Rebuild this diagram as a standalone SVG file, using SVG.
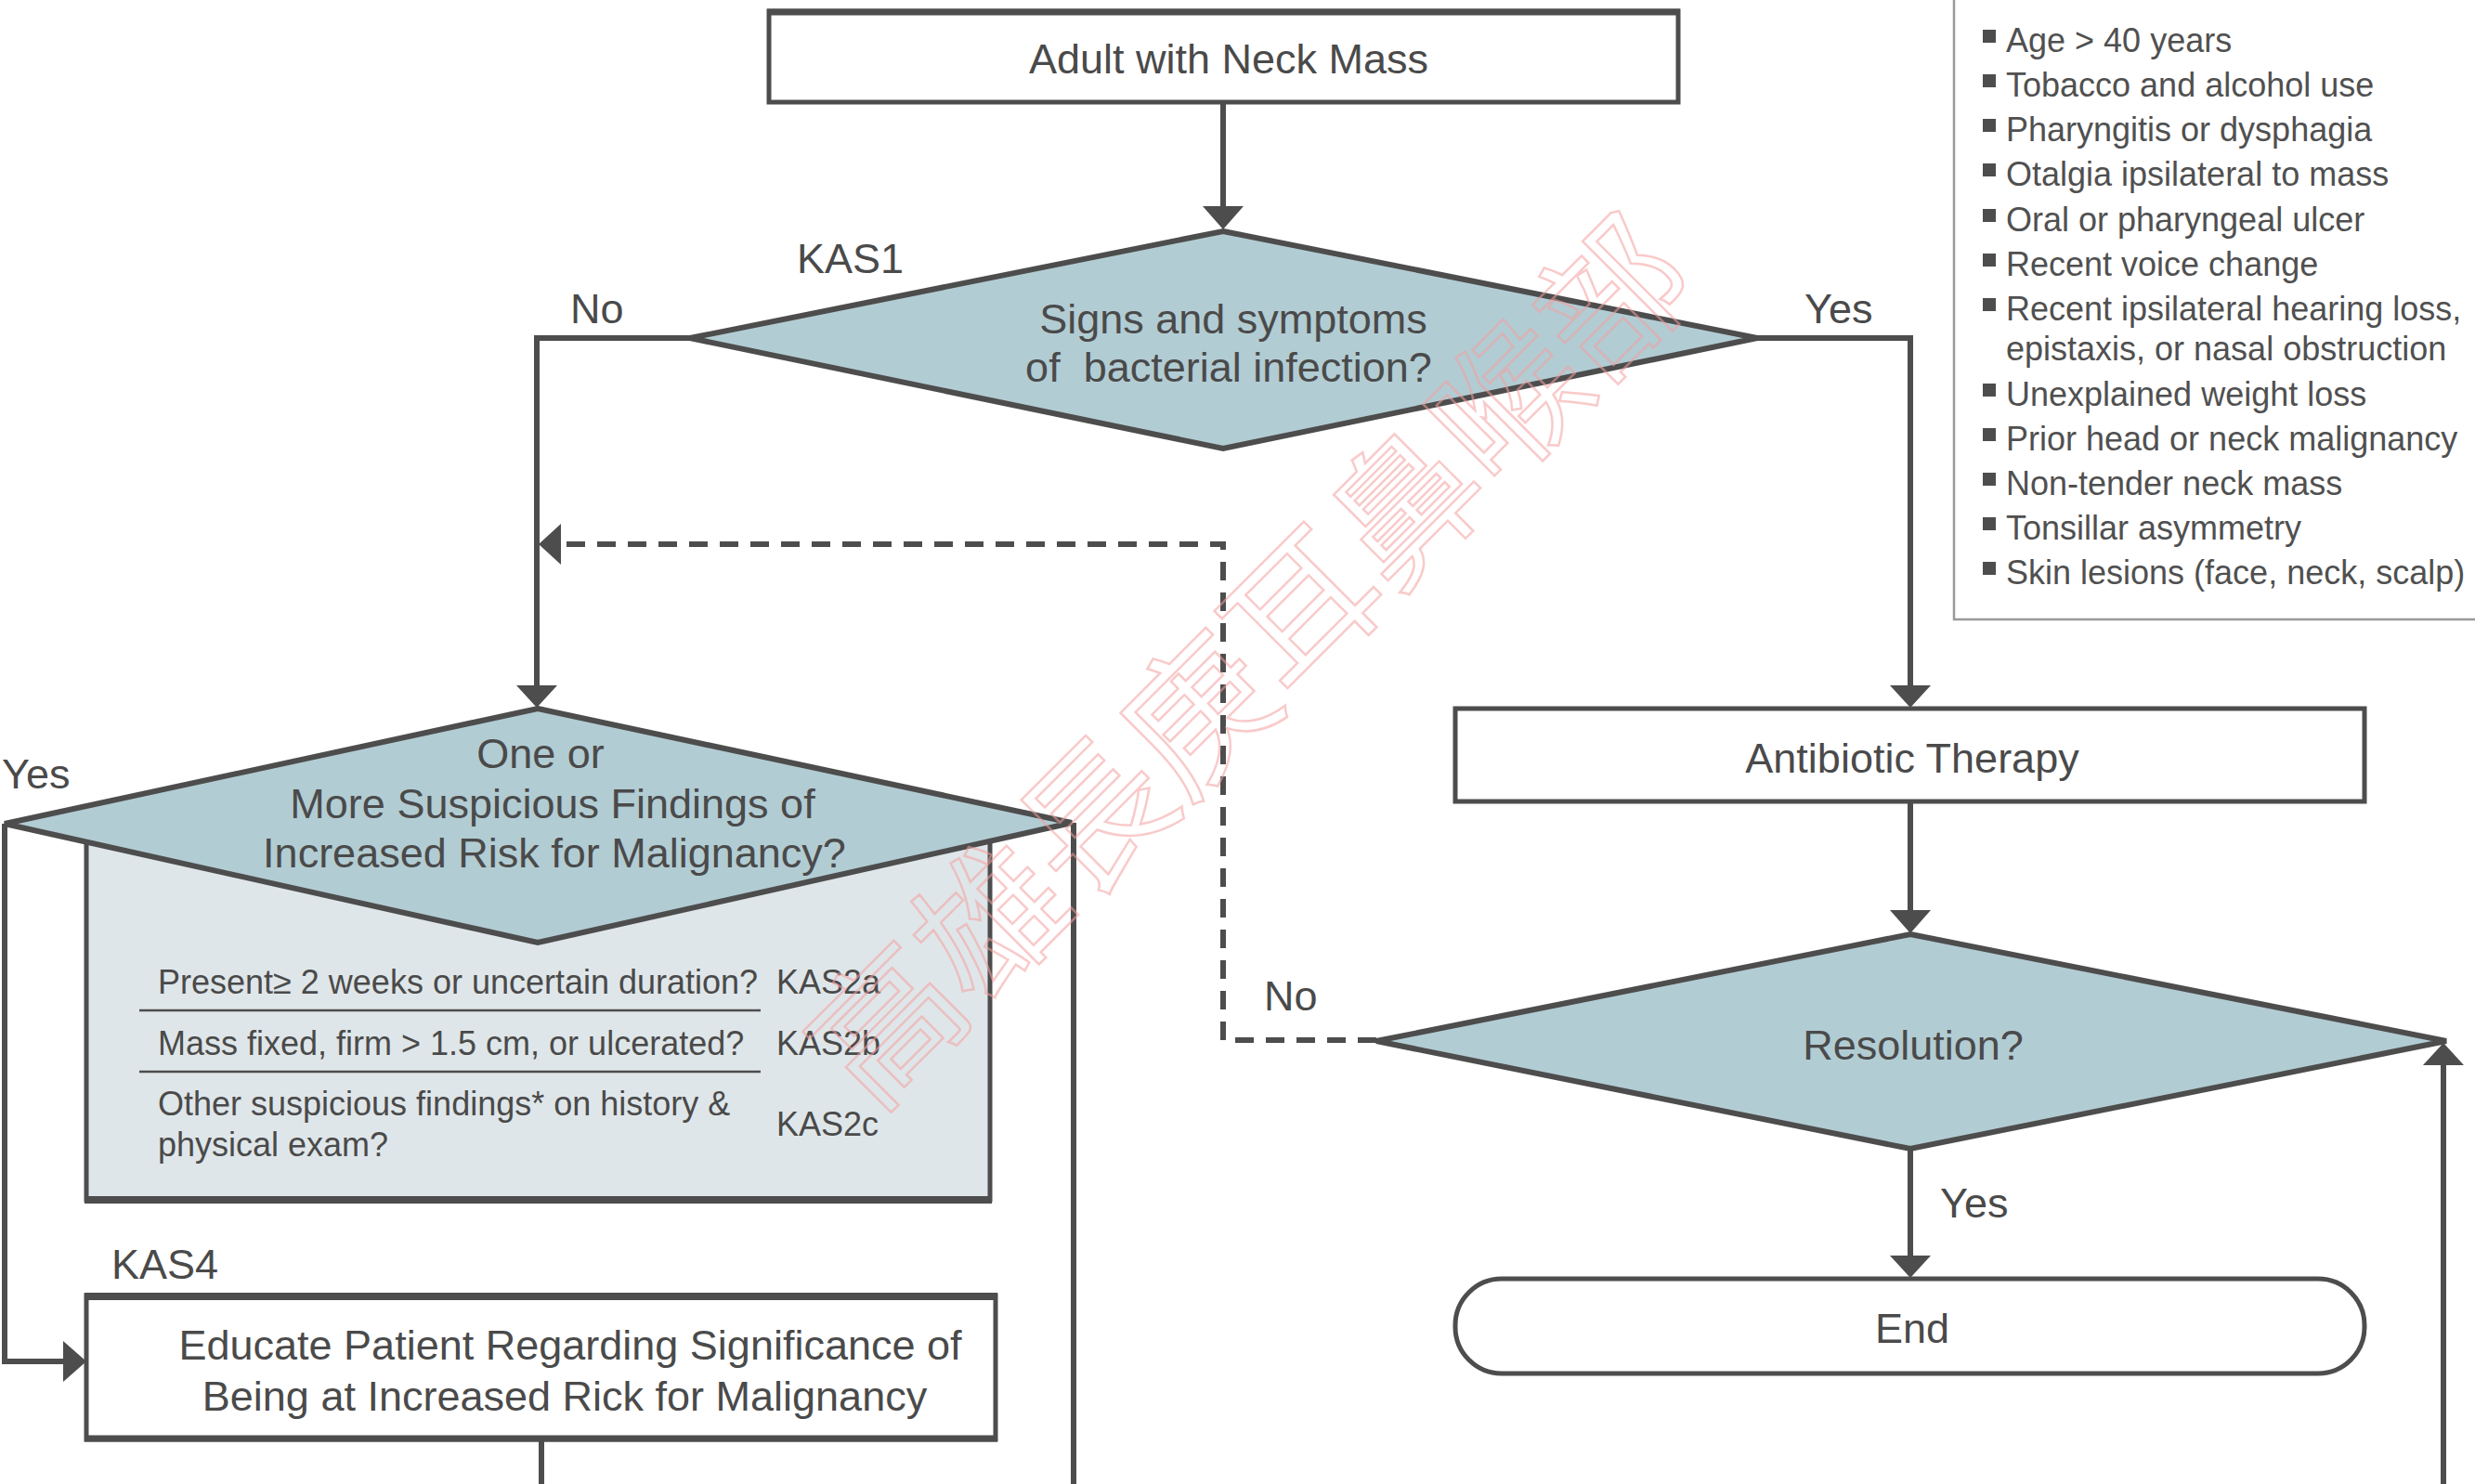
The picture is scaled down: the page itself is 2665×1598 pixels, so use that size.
<svg xmlns="http://www.w3.org/2000/svg" width="2665" height="1598" viewBox="0 0 2665 1598">
<style>
.t{font-family:"Liberation Sans",Arial,sans-serif;fill:#4a4a4a;white-space:pre}
.m{font-size:45px}
.c{text-anchor:middle}
.s{font-size:36px}
.lg{font-family:"Liberation Sans",Arial,sans-serif;font-size:36px;fill:#505050}
.box{fill:#ffffff;stroke:#4d4d4d;stroke-width:5}
.dia{fill:#b2ccd3;stroke:#4d4d4d;stroke-width:6;stroke-linejoin:miter}
.ln{fill:none;stroke:#4d4d4d;stroke-width:6}
.dash{fill:none;stroke:#4d4d4d;stroke-width:6;stroke-dasharray:20 13}
.ah{fill:#4d4d4d}
.wm{font-family:"Noto Sans CJK TC","Noto Sans CJK SC",sans-serif;font-size:158px;fill:none;stroke:#f5a0a0;stroke-width:2.5;opacity:0.55}
</style>

<g id="legend">
<path d="M2104,0 V667 H2665" fill="none" stroke="#9a9a9a" stroke-width="2.5"/>
<g fill="#4d4d4d">
<rect x="2135" y="32" width="14" height="14"/>
<rect x="2135" y="80" width="14" height="14"/>
<rect x="2135" y="128" width="14" height="14"/>
<rect x="2135" y="176" width="14" height="14"/>
<rect x="2135" y="225" width="14" height="14"/>
<rect x="2135" y="273" width="14" height="14"/>
<rect x="2135" y="321" width="14" height="14"/>
<rect x="2135" y="413" width="14" height="14"/>
<rect x="2135" y="461" width="14" height="14"/>
<rect x="2135" y="509" width="14" height="14"/>
<rect x="2135" y="557" width="14" height="14"/>
<rect x="2135" y="605" width="14" height="14"/>
</g>
<text class="lg" x="2160" y="56">Age &gt; 40 years</text>
<text class="lg" x="2160" y="104">Tobacco and alcohol use</text>
<text class="lg" x="2160" y="152">Pharyngitis or dysphagia</text>
<text class="lg" x="2160" y="200">Otalgia ipsilateral to mass</text>
<text class="lg" x="2160" y="249">Oral or pharyngeal ulcer</text>
<text class="lg" x="2160" y="297">Recent voice change</text>
<text class="lg" x="2160" y="345">Recent ipsilateral hearing loss,</text>
<text class="lg" x="2160" y="388">epistaxis, or nasal obstruction</text>
<text class="lg" x="2160" y="437">Unexplained weight loss</text>
<text class="lg" x="2160" y="485">Prior head or neck malignancy</text>
<text class="lg" x="2160" y="533">Non-tender neck mass</text>
<text class="lg" x="2160" y="581">Tonsillar asymmetry</text>
<text class="lg" x="2160" y="629">Skin lesions (face, neck, scalp)</text>
</g>

<g id="connectors">
<line class="ln" x1="1317" y1="110" x2="1317" y2="226"/>
<polygon class="ah" points="1295,222 1339,222 1317,247"/>
<path class="ln" d="M743,364 H578 V742"/>
<polygon class="ah" points="556,738 600,738 578,762"/>
<path class="ln" d="M1892,364 H2057 V742"/>
<polygon class="ah" points="2035,738 2079,738 2057,762"/>
<line class="ln" x1="2057" y1="863" x2="2057" y2="984"/>
<polygon class="ah" points="2035,980 2079,980 2057,1005"/>
<line class="ln" x1="2057" y1="1237" x2="2057" y2="1356"/>
<polygon class="ah" points="2035,1352 2079,1352 2057,1376"/>
<line class="ln" x1="2631" y1="1598" x2="2631" y2="1143"/>
<polygon class="ah" points="2609,1147 2653,1147 2631,1123"/>
<path class="dash" d="M1482,1120 H1317 V586 H604"/>
<polygon class="ah" points="604,564 604,608 580,586"/>
<path class="ln" d="M5,887 V1466 H72"/>
<polygon class="ah" points="68,1444 68,1488 93,1466"/>
<line class="ln" x1="1156" y1="886" x2="1156" y2="1598"/>
<line class="ln" x1="583" y1="1550" x2="583" y2="1598"/>
</g>

<g id="start">
<rect class="box" x="828" y="12" width="979" height="98"/>
<line x1="826" y1="13" x2="1809" y2="13" stroke="#4d4d4d" stroke-width="7"/>
<text class="t m c" x="1323" y="79">Adult with Neck Mass</text>
</g>

<g id="kas1">
<polygon class="dia" points="1317,249 1892,364 1317,483 743,364"/>
<text class="t m c" x="1328" y="359">Signs and symptoms</text>
<text class="t m c" x="1323" y="411">of  bacterial infection?</text>
<text class="t m" x="858" y="294">KAS1</text>
<text class="t m" x="614" y="348">No</text>
<text class="t m" x="1943" y="348">Yes</text>
</g>

<g id="antibiotic">
<rect class="box" x="1567" y="763" width="979" height="100"/>
<text class="t m c" x="2059" y="832">Antibiotic Therapy</text>
</g>

<g id="resolution">
<polygon class="dia" points="2057,1006 2634,1121 2057,1237 1482,1121"/>
<text class="t m c" x="2060" y="1141">Resolution?</text>
<text class="t m" x="1361" y="1088">No</text>
<text class="t m" x="2089" y="1311">Yes</text>
</g>

<g id="end">
<rect class="box" x="1567" y="1377" width="979" height="102" rx="50" ry="50"/>
<text class="t m c" x="2059" y="1446">End</text>
</g>

<g id="kas2">
<rect x="93" y="890" width="973" height="402" fill="#dfe6e9" stroke="#4d4d4d" stroke-width="5"/>
<line x1="91" y1="1292" x2="1068" y2="1292" stroke="#4d4d4d" stroke-width="8"/>
<polygon class="dia" points="579,763 1154,886 579,1015 5,887"/>
<text class="t m c" x="582" y="827">One or</text>
<text class="t m c" x="595" y="881">More Suspicious Findings of</text>
<text class="t m c" x="597" y="934">Increased Risk for Malignancy?</text>
<text class="t m" x="2" y="849">Yes</text>
<text class="t s" x="170" y="1070">Present≥ 2 weeks or uncertain duration?</text>
<text class="t s" x="836" y="1070">KAS2a</text>
<line x1="150" y1="1088" x2="819" y2="1088" stroke="#4d4d4d" stroke-width="2.5"/>
<text class="t s" x="170" y="1136">Mass fixed, firm &gt; 1.5 cm, or ulcerated?</text>
<text class="t s" x="836" y="1136">KAS2b</text>
<line x1="150" y1="1154" x2="819" y2="1154" stroke="#4d4d4d" stroke-width="2.5"/>
<text class="t s" x="170" y="1201">Other suspicious findings* on history &amp;</text>
<text class="t s" x="170" y="1245">physical exam?</text>
<text class="t s" x="836" y="1223">KAS2c</text>
</g>

<g id="kas4">
<rect class="box" x="93" y="1395" width="979" height="155"/>
<line x1="91" y1="1396" x2="1074" y2="1396" stroke="#4d4d4d" stroke-width="8"/>
<line x1="91" y1="1549" x2="1074" y2="1549" stroke="#4d4d4d" stroke-width="7"/>
<text class="t m" x="120" y="1377">KAS4</text>
<text class="t m c" x="614" y="1464">Educate Patient Regarding Significance of</text>
<text class="t m c" x="608" y="1519">Being at Increased Rick for Malignancy</text>
</g>

<text class="wm" transform="translate(1348,714) rotate(-45)" text-anchor="middle" y="55">高雄長庚耳鼻喉部</text>
</svg>
